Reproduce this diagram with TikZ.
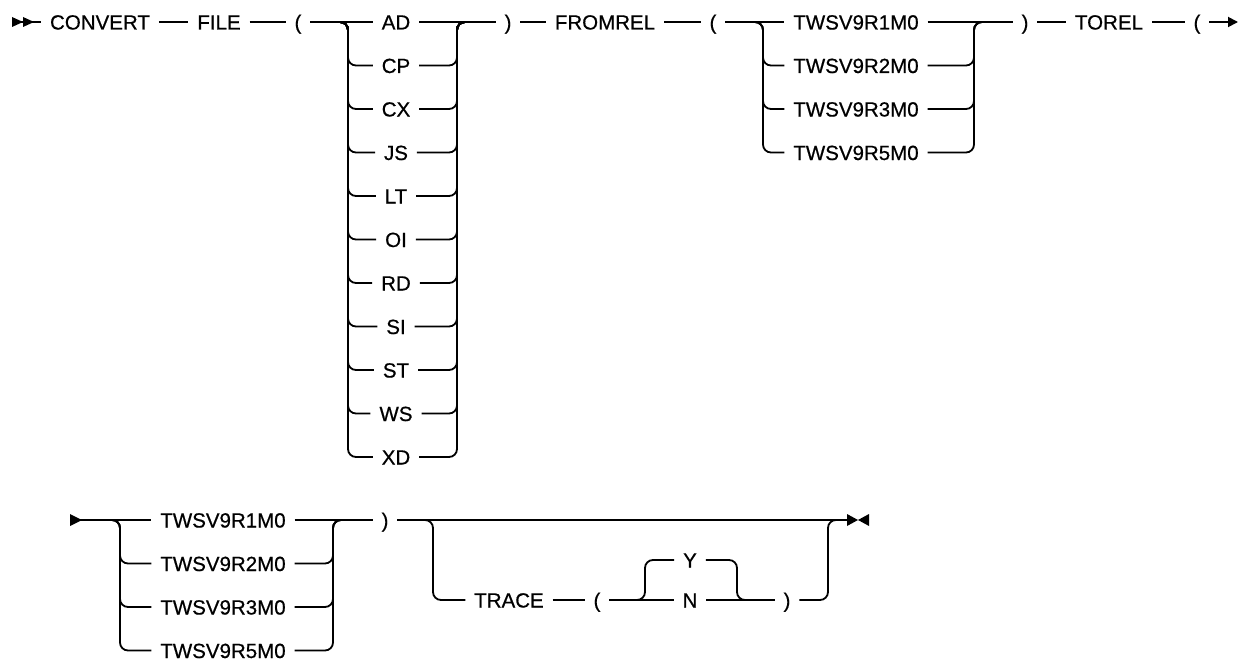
\documentclass[tikz,border=0pt]{standalone}
\usepackage{fontspec}
\setmainfont{Liberation Sans}
\newfontfamily\railfont[FakeBold=0.6]{Liberation Sans}
\usetikzlibrary{arrows.meta,positioning,calc}

\begin{document}
\begin{tikzpicture}[
  x=1pt,y=-1pt,
  keyword/.style={inner sep=0pt,outer xsep=9pt,text height=15pt,text depth=0pt,font=\railfont\fontsize{20.5}{24}\selectfont},
  rail/.style={line width=1.8pt,rounded corners=8pt},
  railend/.style={line width=1.8pt,-{Triangle[length=10pt,width=10pt]}}
]
\useasboundingbox (0,0) rectangle (1245,661);
% first line
\coordinate (start1) at (12,22);
\node[keyword] (convert) at (100,22) {CONVERT};
\node[keyword] (file) at (219,22) {FILE};
\node[keyword] (lpfile) at (298,22) {(};
\foreach \t [count=\i from 0] in {AD,CP,CX,JS,LT,OI,RD,SI,ST,WS,XD}
  \node[keyword] (fil\i) at (396,22+43.5*\i) {\t};
\coordinate (filL) at (348,22);
\coordinate (filR) at (457,22);
\node[keyword] (rpfile) at (508,22) {)};
\node[keyword] (fromrel) at (605,22) {FROMREL};
\node[keyword] (lpfrm) at (713,22) {(};
\foreach \t [count=\i from 0] in {TWSV9R1M0,TWSV9R2M0,TWSV9R3M0,TWSV9R5M0}
  \node[keyword] (frm\i) at (856,22+43.5*\i) {\t};
\coordinate (frmL) at (763,22);
\coordinate (frmR) at (974,22);
\node[keyword] (rpfrm) at (1025,22) {)};
\node[keyword] (torel) at (1109,22) {TOREL};
\node[keyword] (lptor) at (1197,22) {(};
\coordinate (cont1) at (1238,22);
% second line
\coordinate (cont2) at (70,520);
\foreach \t [count=\i from 0] in {TWSV9R1M0,TWSV9R2M0,TWSV9R3M0,TWSV9R5M0}
  \node[keyword] (tor\i) at (223,520+43.5*\i) {\t};
\coordinate (torL) at (120,520);
\coordinate (torR) at (333,520);
\node[keyword] (rptor) at (385,520) {)};
\coordinate (optL) at (433,520);
\coordinate (optR) at (828,520);
\coordinate (endm) at (847,520);
\node[keyword] (trace) at (509,600) {TRACE};
\node[keyword] (lptr) at (597,600) {(};
\node[keyword] (yes) at (690,560) {Y};
\node[keyword] (no) at (690,600) {N};
\coordinate (ynL) at (645,600);
\coordinate (ynR) at (737,600);
\node[keyword] (rptr) at (787,600) {)};

\foreach \dx in {0,11} \fill ($(start1)+(\dx,0)$) ++(0,-5) -- ++(11,5) -- ++(-11,5) -- cycle;
\draw[rail] (start1) -- (convert.west);
\foreach \a/\b in {convert/file,file/lpfile,lpfile/fil0,fil0/rpfile,rpfile/fromrel,fromrel/lpfrm,lpfrm/frm0,frm0/rpfrm,rpfrm/torel,torel/lptor}
  \draw[rail] (\a.east) -- (\b.west);
\foreach \i in {1,...,10} {
  \draw[rail] (lpfile.east) -- (filL) |- (fil\i.west);
  \draw[rail] (fil\i.east) -| (filR) -- (rpfile.west);
}
\foreach \i in {1,2,3} {
  \draw[rail] (lpfrm.east) -- (frmL) |- (frm\i.west);
  \draw[rail] (frm\i.east) -| (frmR) -- (rpfrm.west);
}
\draw[railend] (lptor.east) -- (cont1);

\fill (cont2) ++(0,-6) -- ++(12,6) -- ++(-12,6) -- cycle;
\draw[rail] (cont2) -- (tor0.west);
\draw[rail] (tor0.east) -- (rptor.west);
\foreach \i in {1,2,3} {
  \draw[rail] (cont2) -- (torL) |- (tor\i.west);
  \draw[rail] (tor\i.east) -| (torR) -- (rptor.west);
}
\draw[rail] (rptor.east) -- (endm);
\draw[rail] (rptor.east) -- (optL) |- (trace.west);
\draw[rail] (trace.east) -- (lptr.west);
\draw[rail] (lptr.east) -- (no.west);
\draw[rail] (no.east) -- (rptr.west);
\draw[rail] (lptr.east) -- (ynL) |- (yes.west);
\draw[rail] (yes.east) -| (ynR) -- (rptr.west);
\draw[rail] (rptr.east) -| (optR) -- (endm);
\fill (endm) ++(0,-6) -- ++(11,6) -- ++(-11,6) -- cycle;
\fill (endm) ++(22,-6) -- ++(-11,6) -- ++(11,6) -- cycle;
\end{tikzpicture}
\end{document}
